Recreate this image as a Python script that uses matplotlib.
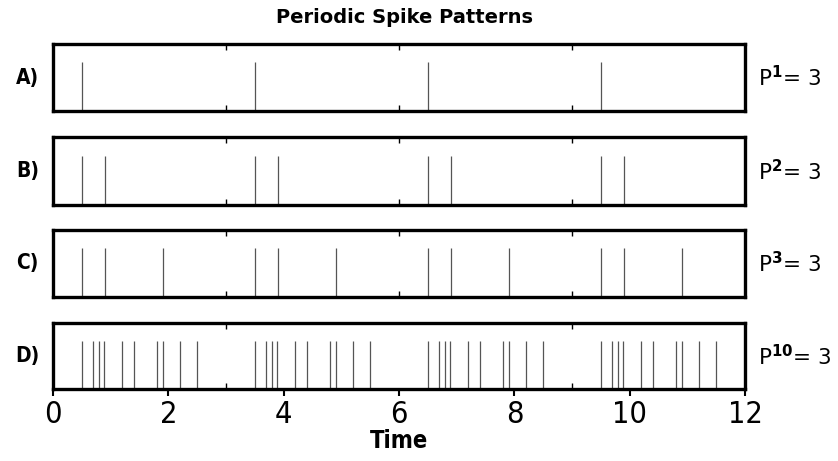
import matplotlib
matplotlib.use("Agg")
import matplotlib.pyplot as plt

# Spike times for each pattern (period 3, four cycles over 0..12)
spikes_a = [0.5, 3.5, 6.5, 9.5]
spikes_b = [0.5, 0.9, 3.5, 3.9, 6.5, 6.9, 9.5, 9.9]
spikes_c = [0.5, 0.9, 1.9, 3.5, 3.9, 4.9, 6.5, 6.9, 7.9, 9.5, 9.9, 10.9]
spikes_d = [0.5, 0.7, 0.8, 0.88, 1.2, 1.4, 1.8, 1.9, 2.2, 2.5,
            3.5, 3.7, 3.8, 3.88, 4.2, 4.4, 4.8, 4.9, 5.2, 5.5,
            6.5, 6.7, 6.8, 6.88, 7.2, 7.4, 7.8, 7.9, 8.2, 8.5,
            9.5, 9.7, 9.8, 9.88, 10.2, 10.4, 10.8, 10.9, 11.2, 11.5]

panel_labels = ["A)", "B)", "C)", "D)"]
spike_counts = ["1", "2", "3", "10"]
period_value = 3
x_ticks = [0, 2, 4, 6, 8, 10, 12]
cycle_marks = [3, 6, 9]

all_spikes = [spikes_a, spikes_b, spikes_c, spikes_d]

fig = plt.figure(figsize=(8.38, 4.61), dpi=100)
fig.patch.set_facecolor("white")

left, width = 0.0632, 0.826
bottoms = [0.759, 0.555, 0.356, 0.156]
heights = [0.145, 0.1475, 0.145, 0.143]

cond_kw = dict(family="DejaVu Sans", fontstretch="condensed")

for i, (times, lab, n) in enumerate(zip(all_spikes, panel_labels, spike_counts)):
    ax = fig.add_axes([left, bottoms[i], width, heights[i]])
    ax.set_xlim(0, 12)
    ax.set_ylim(0, 1)
    ax.vlines(times, 0, 0.73, color="#555555", linewidth=0.9)
    for s in ax.spines.values():
        s.set_linewidth(2.4)
        s.set_color("black")
    ax.set_yticks([])
    # small cycle markers on the top and bottom edges
    ax.set_xticks(cycle_marks, minor=True)
    ax.tick_params(axis="x", which="minor", direction="in", top=True,
                   bottom=True, length=4, width=1, color="black")
    if i < 3:
        ax.set_xticks([])
    else:
        ax.set_xticks(x_ticks)
        ax.set_xticklabels([str(t) for t in x_ticks], **cond_kw)
        ax.tick_params(axis="x", which="major", direction="out", length=5,
                       width=1.5, pad=3, labelsize=22)
        ax.set_xlabel("Time", fontsize=17, fontweight="bold",
                      labelpad=0, **cond_kw)
    fig.text(0.033, bottoms[i] + heights[i] / 2, lab, fontsize=15,
             fontweight="bold", ha="center", va="center", **cond_kw)
    fig.text(0.905, bottoms[i] + heights[i] / 2,
             r"P$^{\mathbf{%s}}$= %d" % (n, period_value),
             fontsize=15.5, ha="left", va="center")

fig.text(0.483, 0.962, "Periodic Spike Patterns", fontsize=14,
         fontweight="bold", ha="center", va="center")

fig.savefig("out.png", dpi=100, facecolor="white")
